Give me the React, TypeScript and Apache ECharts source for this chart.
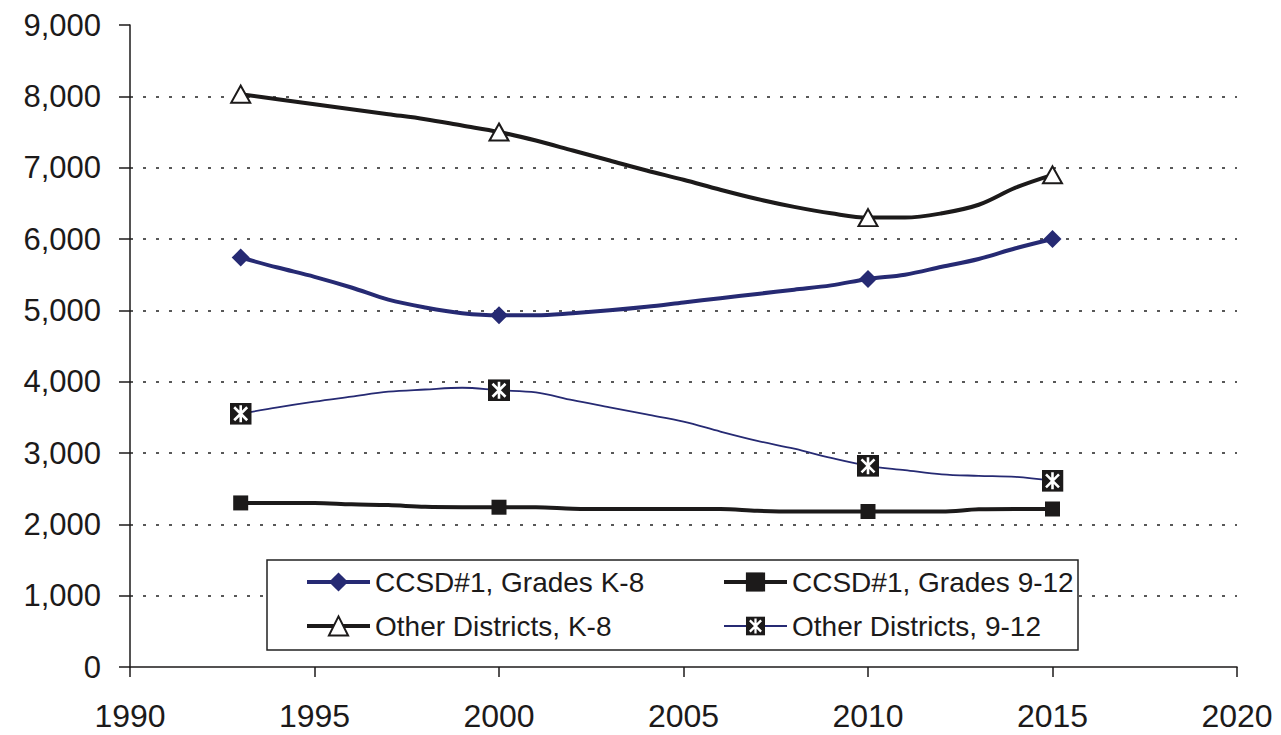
import React, { useEffect, useRef } from "react";
import * as echarts from "echarts";

// Enrollment by year, 1993–2015
const years = [
  1993, 1994, 1995, 1996, 1997, 1998, 1999, 2000, 2001, 2002, 2003, 2004,
  2005, 2006, 2007, 2008, 2009, 2010, 2011, 2012, 2013, 2014, 2015,
];
// Years that carry a marker on every line
const markerYears = [1993, 2000, 2010, 2015];

const ccsdK8 = [
  5740, 5600, 5470, 5320, 5150, 5040, 4960, 4930, 4930, 4960, 5000, 5050,
  5110, 5170, 5230, 5290, 5350, 5440, 5500, 5610, 5720, 5870, 6000,
];
const ccsd912 = [
  2300, 2300, 2300, 2280, 2270, 2245, 2240, 2240, 2240, 2220, 2215, 2215,
  2215, 2215, 2190, 2180, 2180, 2180, 2180, 2180, 2210, 2215, 2215,
];
const otherK8 = [
  8030, 7960, 7890, 7820, 7750, 7680, 7590, 7500, 7380, 7240, 7100, 6960,
  6830, 6690, 6560, 6450, 6360, 6300, 6300, 6360, 6480, 6720, 6900,
];
const other912 = [
  3550, 3640, 3720, 3790, 3860, 3890, 3915, 3880, 3850, 3740, 3640, 3540,
  3440, 3300, 3170, 3060, 2930, 2820, 2760, 2700, 2680, 2665, 2610,
];

const seriesNames = [
  "CCSD#1, Grades K-8",
  "CCSD#1, Grades 9-12",
  "Other Districts, K-8",
  "Other Districts, 9-12",
];

const yTicks = [0, 1000, 2000, 3000, 4000, 5000, 6000, 7000, 8000, 9000];
const xTicks = [1990, 1995, 2000, 2005, 2010, 2015, 2020];

const NAVY = "#262a73";
const BLACK = "#1c1a1a";
const FONT = "'Liberation Sans', Arial, Helvetica, sans-serif";

// Black square with a white asterisk (X plus vertical stroke)
const crossSquare =
  "image://data:image/svg+xml;utf8," +
  encodeURIComponent(
    "<svg xmlns='http://www.w3.org/2000/svg' width='22' height='22' viewBox='0 0 22 22'>" +
      "<rect width='22' height='22' fill='#1c1a1a'/>" +
      "<path d='M11 2.5V19.5M4.5 4.5L17.5 17.5M17.5 4.5L4.5 17.5' stroke='#ffffff' stroke-width='2.6' fill='none'/>" +
      "</svg>"
  );

function buildData(values: number[], symbol: string) {
  return years.map((yr, i) => ({
    value: [yr, values[i]],
    symbol: markerYears.includes(yr) ? symbol : "none",
  }));
}

export default function App() {
  const ref = useRef<HTMLDivElement>(null);

  useEffect(() => {
    if (!ref.current) return;
    const chart = echarts.init(ref.current, undefined, { renderer: "svg" });

    const legendText = {
      fontFamily: FONT,
      fontSize: 28,
      color: "#1c1a1a",
      lineHeight: 28,
    };
    const legendCommon = {
      orient: "vertical",
      top: 568,
      padding: 0,
      itemWidth: 63,
      itemHeight: 24,
      itemGap: 16,
      textStyle: legendText,
      lineStyle: { width: "inherit" },
    };

    chart.setOption({
      animation: false,
      backgroundColor: "#ffffff",
      grid: { left: 130, right: 44, top: 25, bottom: 68, containLabel: false },
      xAxis: {
        type: "value",
        min: xTicks[0],
        max: xTicks[xTicks.length - 1],
        interval: 5,
        axisLine: { show: true, lineStyle: { color: BLACK, width: 1.5 } },
        axisTick: { show: true, length: 10, lineStyle: { color: BLACK, width: 1.5 } },
        axisLabel: {
          margin: 33,
          fontFamily: FONT,
          fontSize: 32,
          color: "#1c1a1a",
          formatter: (v: number) => String(v),
        },
        splitLine: { show: false },
      },
      yAxis: {
        type: "value",
        min: yTicks[0],
        max: yTicks[yTicks.length - 1],
        interval: 1000,
        axisLine: { show: true, lineStyle: { color: BLACK, width: 1.5 } },
        axisTick: { show: true, length: 11, lineStyle: { color: BLACK, width: 1.5 } },
        axisLabel: {
          margin: 29,
          fontFamily: FONT,
          fontSize: 31,
          color: "#1c1a1a",
          formatter: (v: number) => v.toLocaleString("en-US"),
        },
        splitLine: {
          show: true,
          showMinLine: false,
          showMaxLine: false,
          lineStyle: { color: "#222222", width: 1.5, type: [3, 10] },
        },
      },
      legend: [
        { ...legendCommon, left: 305, data: [seriesNames[0], seriesNames[2]] },
        { ...legendCommon, left: 722, data: [seriesNames[1], seriesNames[3]] },
      ],
      graphic: [
        {
          type: "rect",
          z: 3,
          shape: { x: 267, y: 560, width: 811, height: 90 },
          style: { fill: "#ffffff", stroke: "#222222", lineWidth: 1.5 },
        },
      ],
      series: [
        {
          name: seriesNames[0],
          type: "line",
          smooth: 0.35,
          symbol: "diamond",
          symbolSize: 18,
          color: NAVY,
          itemStyle: { color: NAVY },
          lineStyle: { color: NAVY, width: 4 },
          data: buildData(ccsdK8, "diamond"),
          z: 3,
        },
        {
          name: seriesNames[1],
          type: "line",
          smooth: 0.35,
          symbol: "rect",
          symbolSize: 15,
          color: BLACK,
          itemStyle: { color: BLACK },
          lineStyle: { color: BLACK, width: 4 },
          data: buildData(ccsd912, "rect"),
          z: 3,
        },
        {
          name: seriesNames[2],
          type: "line",
          smooth: 0.35,
          symbol: "triangle",
          symbolSize: [19, 17],
          color: BLACK,
          itemStyle: { color: "#ffffff", borderColor: BLACK, borderWidth: 2 },
          lineStyle: { color: BLACK, width: 4 },
          data: buildData(otherK8, "triangle"),
          z: 3,
        },
        {
          name: seriesNames[3],
          type: "line",
          smooth: 0.35,
          symbol: crossSquare,
          symbolSize: 22,
          color: NAVY,
          itemStyle: { color: NAVY },
          lineStyle: { color: NAVY, width: 1.8 },
          data: buildData(other912, crossSquare),
          z: 3,
        },
      ],
    });

    return () => chart.dispose();
  }, []);

  return (
    <div
      ref={ref}
      style={{ width: 1281, height: 735, position: "absolute", left: 0, top: 0 }}
    />
  );
}
